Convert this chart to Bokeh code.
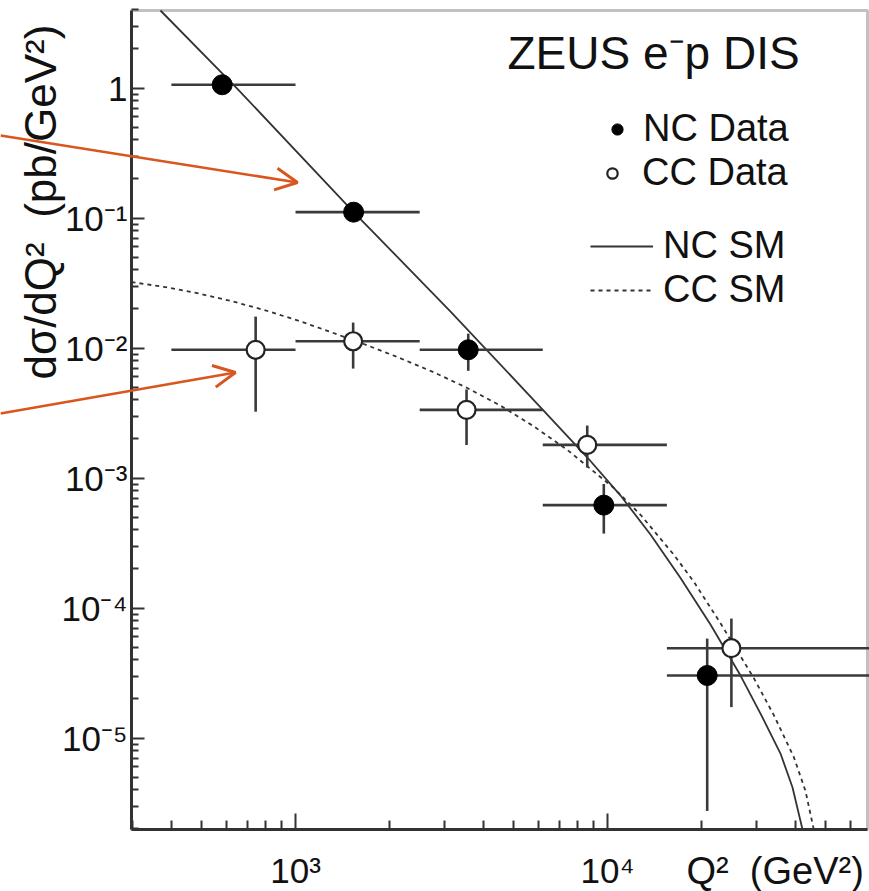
import math
from bokeh.plotting import figure
from bokeh.models import (Range1d, FixedTicker, CustomJSTickFormatter, Label, Arrow,
                          OpenHead, Legend, LegendItem, LogAxis, BoxAnnotation)
from bokeh.embed import file_html
from bokeh.resources import INLINE

# ---------------- data ----------------
q2_bin_lo = [400, 1000, 2500, 6200, 15500]
q2_bin_hi = [1000, 2500, 6200, 15500, 100000]

nc_q2 = [582, 1535, 3578, 9730, 20870]
nc_sig = [1.06, 0.111, 0.0097, 6.19e-4, 3.03e-5]
nc_err_lo = [1.01, 0.106, 0.00668, 3.74e-4, 2.75e-6]
nc_err_hi = [1.11, 0.116, 0.0129, 9.0e-4, 5.82e-5]

cc_q2 = [745, 1530, 3533, 8610, 24950]
cc_sig = [0.0097, 0.01128, 0.003346, 0.0018, 4.91e-5]
cc_err_lo = [0.00324, 0.00695, 0.001795, 0.001204, 1.73e-5]
cc_err_hi = [0.01746, 0.0157, 0.0048, 0.002535, 8.3e-5]

nc_sm_q2 = [369, 650, 1538, 3140, 6100, 8607, 11010, 13730, 17140, 21380, 26690,
            30930, 35850, 39160, 42170]
nc_sm_sig = [3.95, 0.991, 0.1108, 0.01909, 0.003504, 0.001445, 7.335e-4, 3.677e-4,
             1.701e-4, 7.465e-5, 3.026e-5, 1.543e-5, 7.6e-6, 4.19e-6, 1.98e-6]

cc_sm_q2 = [298, 378, 484, 619, 791, 1013, 1295, 1655, 2118, 2769, 3550, 4540, 5792,
            7428, 10452, 12761, 16316, 18907, 23020, 29440, 34120, 39550, 43110, 45830]
cc_sm_sig = [0.03218, 0.02957, 0.02644, 0.02307, 0.01967, 0.01636, 0.0133, 0.01075,
             0.00854, 0.006526, 0.004932, 0.003604, 0.002507, 0.00165, 8.42e-4, 5.22e-4,
             2.57e-4, 1.594e-4, 7.65e-5, 2.894e-5, 1.503e-5, 7.14e-6, 3.92e-6, 1.98e-6]

x_major = [1e3, 1e4]
x_major_labels = ["10³", "10⁴"]
x_minor = [300, 400, 500, 600, 700, 800, 900, 2000, 3000, 4000, 5000, 6000, 7000,
           8000, 9000, 20000, 30000, 40000, 50000, 60000]
y_major = [1e-5, 1e-4, 1e-3, 1e-2, 1e-1, 1.0]
y_major_labels = ["10⁻⁵", "10⁻⁴", "10⁻³", "10⁻²", "10⁻¹", "1"]
y_minor = [m * 10.0 ** e for e in range(-6, 1) for m in range(2, 10)]

x_lim = (298, 68130)      # visible axis box
y_lim = (1.98e-6, 3.95)

# ---------------- layout ----------------
W, H = 869, 891
BL, BR, BT, BB = 131, 867, 10, 829   # axis box in canvas pixels
INK = "#333333"
ORANGE = "#d9561f"
TICK_FONT = "'Liberation Sans Narrow', 'Liberation Sans', sans-serif"
FONT = "'Liberation Sans', sans-serif"

lx0, lx1 = math.log10(x_lim[0]), math.log10(x_lim[1])
ly0, ly1 = math.log10(y_lim[0]), math.log10(y_lim[1])
kx = (lx1 - lx0) / (BR - BL)
ky = (ly1 - ly0) / (BB - BT)
plot_x = (10 ** (lx0 - BL * kx), 10 ** (lx1 + (W - BR) * kx))
plot_y = (10 ** (ly0 - (H - BB) * ky), 10 ** (ly1 + BT * ky))


def cx(px):
    return 10 ** (lx0 + (px - BL) * kx)


def cy(py):
    return 10 ** (ly1 - (py - BT) * ky)


p = figure(width=W, height=H, x_axis_type="log", y_axis_type="log",
           x_range=Range1d(*plot_x), y_range=Range1d(*plot_y),
           x_axis_location=None, y_axis_location=None, title=None,
           output_backend="svg", toolbar_location=None,
           min_border_left=0, min_border_right=0, min_border_top=0, min_border_bottom=0)
p.xgrid.visible = False
p.ygrid.visible = False
p.outline_line_color = None
p.background_fill_color = "white"
p.border_fill_color = "white"

fmt_code = """
for (let i = 0; i < vals.length; i++) {
  if (Math.abs(Math.log10(tick) - Math.log10(vals[i])) < 1e-6) return labs[i];
}
return "";
"""
xaxis = LogAxis(fixed_location=y_lim[0], bounds=x_lim,
                ticker=FixedTicker(ticks=x_major, minor_ticks=x_minor),
                formatter=CustomJSTickFormatter(args=dict(vals=x_major, labs=x_major_labels),
                                                code=fmt_code))
yaxis = LogAxis(fixed_location=x_lim[0], bounds=y_lim,
                ticker=FixedTicker(ticks=y_major, minor_ticks=y_minor),
                formatter=CustomJSTickFormatter(args=dict(vals=y_major, labs=y_major_labels),
                                                code=fmt_code))
for ax in (xaxis, yaxis):
    ax.axis_line_color = INK
    ax.axis_line_width = 3
    ax.major_tick_line_color = INK
    ax.minor_tick_line_color = INK
    ax.major_tick_line_width = 2
    ax.minor_tick_line_width = 2
    ax.major_tick_out = 0
    ax.minor_tick_out = 0
    ax.major_label_text_font = TICK_FONT
    ax.major_label_text_font_size = "35px"
    ax.major_label_text_color = "#111111"
xaxis.major_tick_in = 16
xaxis.minor_tick_in = 9
xaxis.major_label_standoff = 21
yaxis.major_tick_in = 13
yaxis.minor_tick_in = 7
yaxis.major_label_standoff = 4
p.add_layout(xaxis, "below")
p.add_layout(yaxis, "left")

# frame border (top and right sides)
p.add_layout(BoxAnnotation(left=x_lim[0], right=x_lim[1], bottom=y_lim[0], top=y_lim[1],
                           fill_color=None, fill_alpha=0, line_color=INK, line_width=3))

# ---------------- curves ----------------
nc_sm = p.line(nc_sm_q2, nc_sm_sig, line_color=INK, line_width=1.8)
cc_sm = p.line(cc_sm_q2, cc_sm_sig, line_color=INK, line_width=1.8, line_dash="4 4")

# ---------------- error bars ----------------
BAR = "#3a3a3a"
p.segment(x0=q2_bin_lo, y0=nc_sig, x1=q2_bin_hi, y1=nc_sig, line_color=BAR, line_width=2.6)
p.segment(x0=nc_q2, y0=nc_err_lo, x1=nc_q2, y1=nc_err_hi, line_color=BAR, line_width=2.6)
p.segment(x0=q2_bin_lo, y0=cc_sig, x1=q2_bin_hi, y1=cc_sig, line_color=BAR, line_width=2.6)
p.segment(x0=cc_q2, y0=cc_err_lo, x1=cc_q2, y1=cc_err_hi, line_color=BAR, line_width=2.6)

# ---------------- markers ----------------
nc_pts = p.scatter(nc_q2, nc_sig, size=20, fill_color="black", line_color="black")
cc_pts = p.scatter(cc_q2, cc_sig, size=18, fill_color="white", line_color="#222222",
                   line_width=2.2)

# ---------------- legends (one per entry, placed like the reference) ----------------
common = dict(padding=0, margin=0, border_line_color=None, background_fill_alpha=0,
              label_text_font=FONT, label_text_font_size="38px", label_text_color="#111111",
              glyph_height=32)
legend_rows = [("NC Data", nc_pts, 603, 741, 28, 12),
               ("CC Data", cc_pts, 599, 697, 26, 17),
               ("NC SM", nc_sm, 590, 624, 63, 10),
               ("CC SM", cc_sm, 590, 580, 63, 10)]
for lab, rend, lx, ly, gw, so in legend_rows:
    p.add_layout(Legend(items=[LegendItem(label=lab, renderers=[rend])], location=(lx, ly),
                        glyph_width=gw, label_standoff=so, **common))

# ---------------- texts ----------------
p.add_layout(Label(x=cx(507), y=cy(52), text="ZEUS e⁻p DIS", text_font=FONT,
                   text_font_size="46px", text_color="#111111", text_align="left",
                   text_baseline="middle"))
p.add_layout(Label(x=cx(40), y=cy(379), text="dσ/dQ² \u00a0(pb/GeV²)", angle=math.pi / 2,
                   text_font=FONT, text_font_size="44px", text_color="#111111",
                   text_align="left", text_baseline="middle"))
p.add_layout(Label(x=cx(686), y=cy(870), text="Q² \u00a0(GeV²)", text_font=FONT,
                   text_font_size="38px", text_color="#111111", text_align="left",
                   text_baseline="middle"))

# ---------------- annotation arrows ----------------
p.add_layout(Arrow(end=OpenHead(size=22, line_color=ORANGE, line_width=3),
                   x_start=cx(0), y_start=cy(135), x_end=cx(297), y_end=cy(182),
                   line_color=ORANGE, line_width=2.5))
p.add_layout(Arrow(end=OpenHead(size=22, line_color=ORANGE, line_width=3),
                   x_start=cx(0), y_start=cy(413), x_end=cx(235), y_end=cy(372),
                   line_color=ORANGE, line_width=2.5))

open("out.html", "w").write(file_html(p, INLINE))
